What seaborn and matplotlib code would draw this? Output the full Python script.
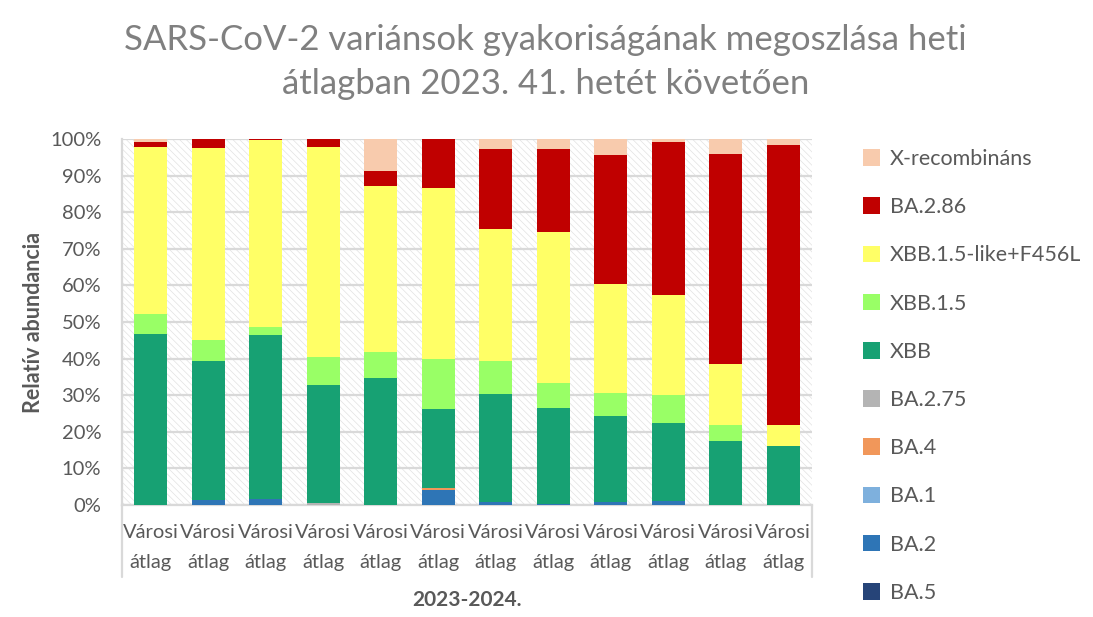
import numpy as np
import pandas as pd
import matplotlib
matplotlib.use("Agg")
import matplotlib.pyplot as plt
from matplotlib.patches import Patch, Rectangle
import seaborn as sns

# weeks after 2023 week 41 (one bar each, all labelled "Városi átlag")
weeks = ['41', '42', '43', '44', '45', '46', '47', '48', '49', '50', '51', '52']
tick_label = 'Városi\nátlag'

# stacked from bottom to top, percent
ba5 = [0, 0, 0, 0, 0, 0, 0, 0, 0, 0, 0, 0]
ba2 = [0, 1.5, 1.6, 0, 0, 4.1, 0.9, 0.3, 0.9, 1.1, 0, 0]
ba1 = [0, 0, 0, 0, 0, 0, 0, 0, 0, 0, 0, 0]
ba4 = [0, 0, 0, 0, 0, 0.5, 0, 0, 0, 0, 0, 0]
ba275 = [0, 0, 0, 0.5, 0, 0, 0, 0, 0, 0, 0, 0]
xbb = [46.7, 37.8, 44.8, 32.3, 34.7, 21.6, 29.4, 26.2, 23.4, 21.3, 17.5, 16.1]
xbb15 = [5.5, 5.8, 2.2, 7.6, 7.1, 13.7, 9.0, 6.8, 6.3, 7.7, 4.4, 0]
xbb15_like = [45.7, 52.4, 51.1, 57.5, 45.4, 46.7, 36.1, 41.3, 29.8, 27.3, 16.6, 5.8]
ba286 = [1.3, 2.5, 0.3, 2.1, 4.1, 13.4, 21.9, 22.7, 35.2, 41.8, 57.4, 76.5]
xrec = [0.8, 0, 0, 0, 8.7, 0, 2.7, 2.7, 4.4, 0.8, 4.1, 1.6]

variants = ['BA.5', 'BA.2', 'BA.1', 'BA.4', 'BA.2.75', 'XBB', 'XBB.1.5',
            'XBB.1.5-like+F456L', 'BA.2.86', 'X-recombináns']
series = [ba5, ba2, ba1, ba4, ba275, xbb, xbb15, xbb15_like, ba286, xrec]
colors = ['#264478', '#2E75B6', '#7EB0DD', '#F1975A', '#B4B4B4', '#17A173',
          '#99FF66', '#FFFF66', '#C00000', '#F8CBAD']

grid_col = '#D9D9D9'
text_col = '#595959'

sns.set_style('white')
plt.rcParams['font.family'] = ['Lato', 'DejaVu Sans']
plt.rcParams['hatch.linewidth'] = 0.5
plt.rcParams['hatch.color'] = '#E2E2E2'

fig = plt.figure(figsize=(10.93, 6.17), dpi=100)
ax = fig.add_axes([0.1116, 0.1815, 0.6314, 0.5932])

# patterned plot background
ax.add_patch(Rectangle((0, 0), 1, 1, transform=ax.transAxes, facecolor='white',
                       edgecolor='#E2E2E2', hatch='\\\\\\\\\\', linewidth=0, zorder=0))

bottom = np.zeros(len(weeks))
for name, vals, col in zip(variants, series, colors):
    df = pd.DataFrame({'week': weeks, 'value': vals})
    sns.barplot(data=df, x='week', y='value', order=weeks, color=col,
                bottom=bottom, width=0.57, linewidth=0, saturation=1,
                errorbar=None, ax=ax, zorder=3)
    bottom = bottom + np.array(vals)

ax.set_xlim(-0.5, len(weeks) - 0.5)
ax.set_ylim(0, 100)
ax.set_yticks(np.arange(0, 101, 10))
ax.set_yticklabels([f'{t}%' for t in range(0, 101, 10)])
ax.yaxis.grid(True, color=grid_col, linewidth=1.6)
for gl in ax.get_ygridlines():
    gl.set_zorder(1)
ax.set_xticks(range(len(weeks)))
ax.set_xticklabels([tick_label] * len(weeks), fontsize=14.5, color=text_col,
                   linespacing=1.9)
ax.tick_params(axis='x', length=0, pad=14)
ax.tick_params(axis='y', length=7, width=1.6, color=grid_col, labelsize=14.5,
               labelcolor=text_col, pad=8)
ax.set_xlabel('')
ax.set_ylabel('Relatív abundancia', fontsize=15.5, fontweight='bold',
              color=text_col, labelpad=4)

for side in ['top', 'right']:
    ax.spines[side].set_visible(False)
for side in ['left', 'bottom']:
    ax.spines[side].set_color(grid_col)
    ax.spines[side].set_linewidth(1.6)

# multi-level category box below the axis
for xv in [0, 1]:
    ax.plot([xv, xv], [0, -0.197], transform=ax.transAxes, color=grid_col,
            linewidth=1.6, clip_on=False)

fig.text(0.427, 0.028, '2023-2024.', ha='center', va='center', fontsize=15,
         fontweight='bold', color=text_col)

fig.text(0.499, 0.9, 'SARS-CoV-2 variánsok gyakoriságának megoszlása heti\n'
         'átlagban 2023. 41. hetét követően', ha='center', va='center',
         fontsize=25, color='#808080', linespacing=1.45)

handles = [Patch(facecolor=c, edgecolor='none') for c in colors[::-1]]
fig.legend(handles, variants[::-1], loc='upper left', bbox_to_anchor=(0.772, 0.79),
           frameon=False, fontsize=15.5, handlelength=0.8, handleheight=0.8,
           handletextpad=0.45, labelspacing=1.31, labelcolor=text_col)

fig.savefig('out.png', dpi=100)
